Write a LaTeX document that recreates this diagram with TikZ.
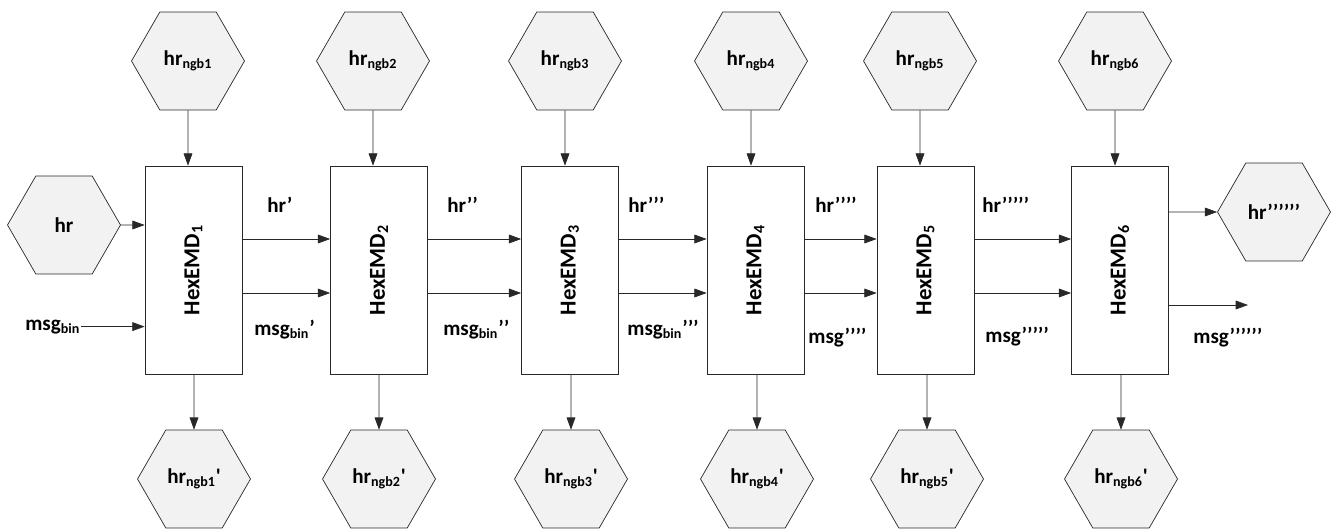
\documentclass[tikz,border=0pt]{standalone}
\usepackage{fontspec}
\setmainfont{Carlito}
\usetikzlibrary{shapes.geometric, arrows.meta}

\definecolor{hexgray}{RGB}{242,242,242}
\definecolor{linegray}{RGB}{40,40,40}
\newcommand{\low}[1]{\textsubscript{#1}}

\begin{document}
\begin{tikzpicture}[x=0.02cm, y=-0.02cm,
  every node/.style={font=\bfseries\fontsize{12}{14}\selectfont},
  hex/.style={draw=linegray, fill=hexgray, regular polygon, regular polygon sides=6,
    minimum size=2.26cm, inner sep=0pt},
  emd/.style={draw=linegray, fill=white, minimum width=1.94cm, minimum height=4.16cm, inner sep=0pt,
    font=\bfseries\fontsize{13}{15}\selectfont},
  lab/.style={anchor=base west, inner sep=0pt},
  arr/.style={draw=linegray, -{Triangle[length=7pt, width=5pt]}}]
\useasboundingbox (0,0) rectangle (1335,530);

% neighbour hexagons on top
\node[hex] (n1) at (188,61) {hr\low{ngb1}};
\node[hex] (n2) at (373,61) {hr\low{ngb2}};
\node[hex] (n3) at (565,61) {hr\low{ngb3}};
\node[hex] (n4) at (751,61) {hr\low{ngb4}};
\node[hex] (n5) at (920,61) {hr\low{ngb5}};
\node[hex] (n6) at (1115,61) {hr\low{ngb6}};

% embedding stages
\node[emd] (b1) at (193.5,270) {\rotatebox{90}{HexEMD\low{1}}};
\node[emd] (b2) at (379,270) {\rotatebox{90}{HexEMD\low{2}}};
\node[emd] (b3) at (570,270) {\rotatebox{90}{HexEMD\low{3}}};
\node[emd] (b4) at (755.5,270) {\rotatebox{90}{HexEMD\low{4}}};
\node[emd] (b5) at (925.5,270) {\rotatebox{90}{HexEMD\low{5}}};
\node[emd] (b6) at (1120,270) {\rotatebox{90}{HexEMD\low{6}}};

% modified neighbours below
\node[hex] (m1) at (194,479) {hr\low{ngb1}\textquotesingle};
\node[hex] (m2) at (379,479) {hr\low{ngb2}\textquotesingle};
\node[hex] (m3) at (571,479) {hr\low{ngb3}\textquotesingle};
\node[hex] (m4) at (757,479) {hr\low{ngb4}\textquotesingle};
\node[hex] (m5) at (927,479) {hr\low{ngb5}\textquotesingle};
\node[hex] (m6) at (1121,479) {hr\low{ngb6}\textquotesingle};

% input and output
\node[hex] (hr) at (64,225) {hr};
\node[hex] (hro) at (1274,212) {hr’’’’’’};
\node[lab] (min) at (25,330) {msg\low{bin}};
\coordinate (mout) at (1248,305);

% intermediate values
\node[lab] (h1) at (267,213) {hr’};
\node[lab] (h2) at (447,213) {hr’’};
\node[lab] (h3) at (628,213) {hr’’’};
\node[lab] (h4) at (815,213) {hr’’’’};
\node[lab] (h5) at (982,213) {hr’’’’’};
\node[lab] (s1) at (254,335) {msg\low{bin}’};
\node[lab] (s2) at (443,335) {msg\low{bin}’’};
\node[lab] (s3) at (627,335) {msg\low{bin}’’’};
\node[lab] (s4) at (808,343) {msg’’’’};
\node[lab] (s5) at (985,342) {msg’’’’’};
\node[lab] (s6) at (1193,343) {msg’’’’’’};

\draw[arr] (hr) -- (hr -| b1.west);
\draw[arr] (min.east) -- (min.east -| b1.west);

\draw[arr] (n1) -- (n1 |- b1.north);
\draw[arr] (n2) -- (n2 |- b2.north);
\draw[arr] (n3) -- (n3 |- b3.north);
\draw[arr] (n4) -- (n4 |- b4.north);
\draw[arr] (n5) -- (n5 |- b5.north);
\draw[arr] (n6) -- (n6 |- b6.north);

\draw[arr] (m1 |- b1.south) -- (m1);
\draw[arr] (m2 |- b2.south) -- (m2);
\draw[arr] (m3 |- b3.south) -- (m3);
\draw[arr] (m4 |- b4.south) -- (m4);
\draw[arr] (m5 |- b5.south) -- (m5);
\draw[arr] (m6 |- b6.south) -- (m6);

\draw[arr] (b1.east |- 0,239) -- (b2.west |- 0,239);
\draw[arr] (b1.east |- 0,293) -- (b2.west |- 0,293);
\draw[arr] (b2.east |- 0,239) -- (b3.west |- 0,239);
\draw[arr] (b2.east |- 0,293) -- (b3.west |- 0,293);
\draw[arr] (b3.east |- 0,239) -- (b4.west |- 0,239);
\draw[arr] (b3.east |- 0,293) -- (b4.west |- 0,293);
\draw[arr] (b4.east |- 0,239) -- (b5.west |- 0,239);
\draw[arr] (b4.east |- 0,293) -- (b5.west |- 0,293);
\draw[arr] (b5.east |- 0,239) -- (b6.west |- 0,239);
\draw[arr] (b5.east |- 0,293) -- (b6.west |- 0,293);

\draw[arr] (b6.east |- hro) -- (hro);
\draw[arr] (b6.east |- mout) -- (mout);
\end{tikzpicture}
\end{document}
